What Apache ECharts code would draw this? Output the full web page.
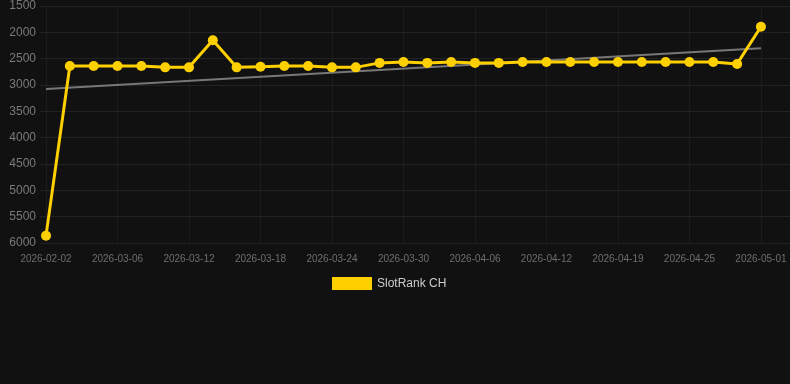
<!DOCTYPE html>
<html>
<head>
<meta charset="utf-8">
<script src="https://cdn.jsdelivr.net/npm/echarts@6.0.0/dist/echarts.min.js"></script>
<style>
html,body{margin:0;padding:0;background:#111111;}
#c{width:790px;height:384px;}
</style>
</head>
<body>
<div id="c"></div>
<script>
var categories = ["2026-02-02","2026-03-02","2026-03-04","2026-03-06","2026-03-08","2026-03-10","2026-03-12","2026-03-14","2026-03-16","2026-03-18","2026-03-20","2026-03-22","2026-03-24","2026-03-26","2026-03-28","2026-03-30","2026-04-01","2026-04-03","2026-04-06","2026-04-08","2026-04-10","2026-04-12","2026-04-14","2026-04-17","2026-04-19","2026-04-21","2026-04-23","2026-04-25","2026-04-27","2026-04-29","2026-05-01"];
var rankValues = [5860,2640,2640,2640,2640,2665,2665,2150,2665,2652,2640,2640,2665,2665,2580,2563,2580,2563,2580,2580,2563,2563,2563,2563,2563,2563,2563,2563,2563,2600,1893];
var trendStart = 3075;
var trendEnd = 2300;
var yTicks = [1500,2000,2500,3000,3500,4000,4500,5000,5500,6000];
var labelIdx = [0,3,6,9,12,15,18,21,24,27,30];

var chart = echarts.init(document.getElementById('c'));
var seriesData = rankValues.map(function(v,i){return [i,v];});
var n = categories.length - 1;
chart.setOption({
  backgroundColor: '#111111',
  animation: false,
  grid: {left: 40, right: 0, top: 6, height: 237},
  legend: {
    data: ['SlotRank CH'],
    top: 272, left: 327,
    icon: 'rect', itemWidth: 40, itemHeight: 13, itemGap: 10,
    textStyle: {color: '#cccccc', fontSize: 12, fontFamily: 'Liberation Sans, Arial, sans-serif'}
  },
  xAxis: {
    type: 'value',
    min: -0.252, max: 31.22,
    axisLine: {show: false},
    axisTick: {show: false, customValues: labelIdx},
    splitLine: {show: true, lineStyle: {color: '#1c1c1c', width: 1}},
    axisLabel: {
      customValues: labelIdx,
      color: '#6e6e6e', fontSize: 10, margin: 11,
      fontFamily: 'Liberation Sans, Arial, sans-serif',
      formatter: function(v){ return categories[Math.round(v)] || ''; }
    }
  },
  yAxis: {
    type: 'value', inverse: true,
    min: yTicks[0], max: yTicks[yTicks.length-1], interval: 500,
    axisLine: {show: false}, axisTick: {show: false},
    splitLine: {lineStyle: {color: '#222222', width: 1}},
    axisLabel: {color: '#7a7a7a', fontSize: 12, margin: 4, fontFamily: 'Liberation Sans, Arial, sans-serif',
      formatter: function(v){ return String(v); }}
  },
  series: [
    {
      name: 'Trend', type: 'line',
      data: [[0, trendStart], [n, trendEnd]],
      symbol: 'none',
      lineStyle: {color: '#777777', width: 2},
      itemStyle: {color: '#777777'},
      z: 1
    },
    {
      name: 'SlotRank CH', type: 'line',
      data: seriesData,
      symbol: 'circle', symbolSize: 10,
      lineStyle: {color: '#FFD000', width: 3},
      itemStyle: {color: '#FFD000'},
      z: 3
    }
  ]
});
</script>
</body>
</html>
